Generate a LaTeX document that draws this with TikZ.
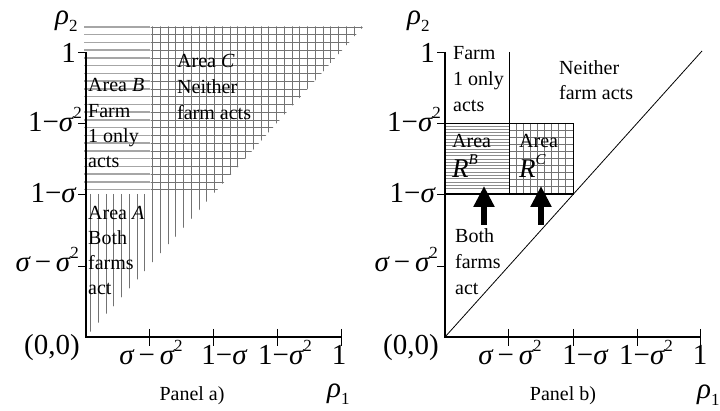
\documentclass[tikz,border=0pt]{standalone}
\usepackage{fontspec}
\setmainfont{Liberation Serif}
\usetikzlibrary{arrows.meta}
\newcommand\sg{{\itshape σ}}
\newcommand\mn{−}
\newcommand\sqq{\raisebox{0.45em}{\fontsize{17}{17}\selectfont 2}}
\newcommand\rsub[1]{\raisebox{-0.22em}{\fontsize{17}{17}\selectfont #1}}
\newcommand\rsup[1]{\raisebox{0.5em}{\fontsize{15}{15}\selectfont\itshape #1}}
\newcommand\stk[2]{\vtop{\baselineskip=#1\relax #2}}
\begin{document}
\begin{tikzpicture}[x=1pt,y=-1pt,
  axis/.style={line width=2.8pt},
  tck/.style={line width=0.8pt},
  ticklbl/.style={font=\fontsize{29}{29}\selectfont, inner sep=0},
  txt/.style={font=\fontsize{20}{25}\selectfont, inner sep=0, anchor=base west},
  paneltxt/.style={font=\fontsize{20}{20}\selectfont, inner sep=0, anchor=base},
  hatchB/.style={draw=black!35, line width=1.5pt},
  gridl/.style={draw=black!55, line width=0.8pt},
  hatchBb/.style={draw=black!45, line width=0.9pt},
  bigarrow/.style={-{Triangle[width=20pt,length=21pt]}, line width=6.5pt}
]
\useasboundingbox (0,0) rectangle (720,411);

% ================= Panel a =================
\coordinate (Oa) at (86,337);
\coordinate (Ya) at (86,52);
\coordinate (Xa) at (341,337);
% Area B hatch
\foreach \y in {27,34.75,...,193}{\draw[hatchB] (84,\y) -- (150,\y);}
% Area C grid
\begin{scope}
  \clip (150.5,26.5) -- (363.4,26.5) -- (213.5,194) -- (150.5,194) -- cycle;
  \foreach \x in {152.5,160.25,...,366}{\draw[gridl] (\x,26) -- (\x,194);}
  \foreach \y in {27,34.75,...,192}{\draw[gridl] (150,\y) -- (366,\y);}
\end{scope}
% Area A vertical hatch
\begin{scope}
  \clip (86,337) -- (86,194) -- (213.5,194) -- cycle;
  \foreach \x in {90.5,98.25,...,215}{\draw[gridl] (\x,194) -- (\x,337);}
\end{scope}
% axes
\draw[axis] (Ya) -- (Oa) -- (Xa);
% y ticks
\foreach \yy in {52,123,194,266}{\draw[tck] (78,\yy) -- (86,\yy);}
\foreach \xx in {149,213,277,341}{\draw[tck] (\xx,329) -- (\xx,346);}
% y labels
\node[ticklbl,anchor=base east] (a1) at (76,63) {1};
\node[ticklbl,anchor=base east] (a2) at (82,132) {1\mn\sg\sqq};
\node[ticklbl,anchor=base east] (a3) at (76,203) {1\mn\sg};
\node[ticklbl,anchor=base east] (a4) at (79,272) {\sg\,\mn\,\sg\sqq};
\node[ticklbl,anchor=base east] (a0) at (80,355) {(0,0)};
% x labels
\node[ticklbl,anchor=base] (ax1) at (151,365) {\sg\,\mn\,\sg\sqq};
\node[ticklbl,anchor=base] (ax2) at (224,365) {1\mn\sg};
\node[ticklbl,anchor=base] (ax3) at (285,365) {1\mn\sg\sqq};
\node[ticklbl,anchor=base] (ax4) at (339,365) {1};
% axis labels
\node[ticklbl,anchor=base west] (rho2a) at (55,25) {{\itshape ρ}\rsub{2}};
\node[ticklbl,anchor=base west] (rho1a) at (327,398) {{\itshape ρ}\rsub{1}};
\node[paneltxt] (pa) at (192,400) {Panel a)};
% area texts
\node[txt] (tB) at (88,92) {\stk{25.3pt}{\hbox{Area \textit{B}}\hbox{Farm}\hbox{1 only}\hbox{acts}}};
\node[txt] (tC) at (177,68) {\stk{26pt}{\hbox{Area \textit{C}}\hbox{Neither}\hbox{farm acts}}};
\node[txt] (tA) at (88,220) {\stk{25pt}{\hbox{Area \textit{A}}\hbox{Both}\hbox{farms}\hbox{act}}};

% ================= Panel b =================
\coordinate (Ob) at (445,337);
\coordinate (Yb) at (445,52);
\coordinate (Xb) at (700,337);
\coordinate (Db) at (702,51);
\coordinate (Vt) at (509,52);
\coordinate (Vb) at (509,194);
% R^B hatch
\foreach \y in {126,129.3,...,192}{\draw[hatchBb] (445,\y) -- (509,\y);}
% R^C grid
\begin{scope}
  \clip (509,123) rectangle (573,194);
  \foreach \x in {509,516.1,...,574}{\draw[gridl] (\x,123) -- (\x,194);}
  \foreach \y in {123,130.1,...,195}{\draw[gridl] (509,\y) -- (573,\y);}
\end{scope}
\draw[line width=0.9pt] (445,123) rectangle (573,194);
\draw[line width=1.5pt] (445,194) -- (573,194);
\draw[line width=0.9pt] (Vt) -- (Vb);
% diagonal
\draw[line width=0.8pt] (Ob) -- (Db);
% axes
\draw[axis] (Yb) -- (Ob) -- (Xb);
\foreach \yy in {52,123,194,266}{\draw[tck] (437,\yy) -- (445,\yy);}
\foreach \xx in {508,573,637,700}{\draw[tck] (\xx,329) -- (\xx,346);}
% arrows
\coordinate (ar1s) at (484,225); \coordinate (ar1e) at (484,186);
\coordinate (ar2s) at (541,225); \coordinate (ar2e) at (541,186);
\draw[bigarrow] (ar1s) -- (ar1e);
\draw[bigarrow] (ar2s) -- (ar2e);
% y labels
\node[ticklbl,anchor=base east] (b1) at (435,63) {1};
\node[ticklbl,anchor=base east] (b2) at (441,132) {1\mn\sg\sqq};
\node[ticklbl,anchor=base east] (b3) at (435,203) {1\mn\sg};
\node[ticklbl,anchor=base east] (b4) at (438,272) {\sg\,\mn\,\sg\sqq};
\node[ticklbl,anchor=base east] (b0) at (439,355) {(0,0)};
% x labels
\node[ticklbl,anchor=base] (bx1) at (510,365) {\sg\,\mn\,\sg\sqq};
\node[ticklbl,anchor=base] (bx2) at (585,365) {1\mn\sg};
\node[ticklbl,anchor=base] (bx3) at (646,365) {1\mn\sg\sqq};
\node[ticklbl,anchor=base] (bx4) at (700,365) {1};
\node[ticklbl,anchor=base west] (rho2b) at (407,25) {{\itshape ρ}\rsub{2}};
\node[ticklbl,anchor=base west] (rho1b) at (697,399) {{\itshape ρ}\rsub{1}};
\node[paneltxt] (pb) at (563,400) {Panel b)};
% texts
\node[txt] (tF) at (453,60) {\stk{26pt}{\hbox{Farm}\hbox{1 only}\hbox{acts}}};
\node[txt] (tN) at (559,75) {\stk{25pt}{\hbox{Neither}\hbox{farm acts}}};
\node[txt] (tRB) at (452,148) {\stk{30pt}{\hbox{Area}\hbox{\fontsize{27}{27}\selectfont\itshape R\rsup{B}}}};
\node[txt] (tRC) at (519,148) {\stk{30pt}{\hbox{Area}\hbox{\fontsize{27}{27}\selectfont\itshape R\rsup{C}}}};
\node[txt] (tBoth) at (455,243) {\stk{26pt}{\hbox{Both}\hbox{farms}\hbox{act}}};
\end{tikzpicture}
\end{document}
